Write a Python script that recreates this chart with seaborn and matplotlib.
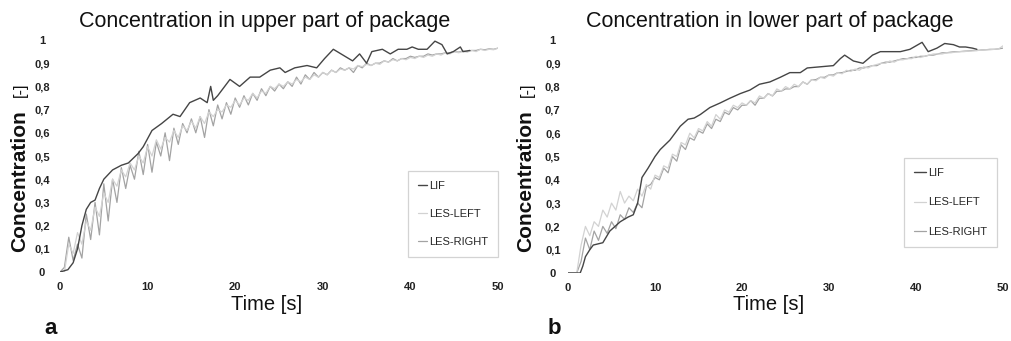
import numpy as np
import pandas as pd
import matplotlib
matplotlib.use("Agg")
import matplotlib.pyplot as plt
import seaborn as sns

# ---- data (time in s, concentration in [-]) ----
SERIES = ["LIF", "LES-LEFT", "LES-RIGHT"]
COLORS = {"LIF": "#454545", "LES-LEFT": "#d2d2d2", "LES-RIGHT": "#a3a3a3"}

X_TICKS = [0, 10, 20, 30, 40, 50]
Y_TICKS = [0, 0.1, 0.2, 0.3, 0.4, 0.5, 0.6, 0.7, 0.8, 0.9, 1]
Y_TICK_LABELS = ["0", "0,1", "0,2", "0,3", "0,4", "0,5", "0,6", "0,7", "0,8", "0,9", "1"]

# LES signals are sampled every 0.5 s
LES_TIME = np.arange(0, 50.5, 0.5)

# panel a: upper part of package
A_LIF_TIME = [0, 0.9, 1.5, 2, 2.5, 3, 3.5, 4, 4.5, 5, 5.5, 6, 7, 7.8, 8.9, 9.5,
              10.5, 11.6, 12.9, 13.7, 14.8, 16, 16.8, 17.2, 17.5, 18, 19.4, 20.5,
              21.7, 22.8, 24, 25.1, 25.7, 26.8, 28.2, 29.3, 30.2, 31.2, 32.3, 33.4,
              34.2, 35, 35.6, 36.8, 37.7, 38.6, 39.6, 40.2, 40.9, 41.9, 42.8, 43.6,
              44.2, 44.9, 45.7, 46, 46.8]
A_LIF = [0, 0.01, 0.04, 0.1, 0.2, 0.27, 0.3, 0.31, 0.36, 0.4, 0.42, 0.44, 0.46, 0.47,
         0.51, 0.54, 0.61, 0.64, 0.68, 0.67, 0.73, 0.75, 0.73, 0.8, 0.74, 0.76, 0.83,
         0.8, 0.84, 0.84, 0.87, 0.88, 0.86, 0.88, 0.89, 0.88, 0.92, 0.96, 0.935, 0.91,
         0.94, 0.9, 0.95, 0.96, 0.94, 0.96, 0.96, 0.97, 0.96, 0.96, 0.995, 0.98, 0.94,
         0.95, 0.97, 0.95, 0.955]
A_LES_LEFT = [0, 0, 0.12, 0.08, 0.17, 0.12, 0.22, 0.18, 0.28, 0.24,
              0.34, 0.3, 0.4, 0.37, 0.44, 0.41, 0.47, 0.44, 0.5, 0.47,
              0.54, 0.5, 0.57, 0.53, 0.58, 0.56, 0.61, 0.58, 0.63, 0.61,
              0.65, 0.62, 0.67, 0.64, 0.69, 0.67, 0.7, 0.69, 0.72, 0.71,
              0.74, 0.72, 0.75, 0.74, 0.77, 0.75, 0.78, 0.77, 0.8, 0.79,
              0.81, 0.8, 0.82, 0.81, 0.83, 0.82, 0.84, 0.83, 0.85, 0.84,
              0.86, 0.85, 0.87, 0.86, 0.875, 0.87, 0.88, 0.875, 0.89, 0.885,
              0.895, 0.89, 0.9, 0.895, 0.91, 0.905, 0.915, 0.91, 0.92, 0.915,
              0.925, 0.92, 0.93, 0.925, 0.935, 0.93, 0.94, 0.935, 0.945, 0.94,
              0.95, 0.945, 0.95, 0.948, 0.955, 0.95, 0.96, 0.955, 0.96, 0.958,
              0.965]
A_LES_RIGHT = [0, 0.02, 0.15, 0.05, 0.12, 0.06, 0.25, 0.14, 0.3, 0.16,
               0.38, 0.22, 0.4, 0.3, 0.45, 0.36, 0.46, 0.4, 0.52, 0.42,
               0.55, 0.43, 0.56, 0.5, 0.6, 0.48, 0.62, 0.55, 0.64, 0.6,
               0.66, 0.6, 0.67, 0.58, 0.7, 0.63, 0.72, 0.66, 0.73, 0.68,
               0.75, 0.71, 0.76, 0.72, 0.77, 0.74, 0.79, 0.76, 0.8, 0.78,
               0.81, 0.79, 0.82, 0.8, 0.84, 0.81, 0.85, 0.83, 0.86, 0.84,
               0.86, 0.85, 0.87, 0.86, 0.88, 0.87, 0.88, 0.86, 0.89, 0.88,
               0.9, 0.89, 0.9, 0.9, 0.91, 0.905, 0.92, 0.91, 0.92, 0.92,
               0.93, 0.925, 0.93, 0.93, 0.94, 0.935, 0.94, 0.94, 0.945, 0.945,
               0.95, 0.948, 0.952, 0.95, 0.955, 0.955, 0.96, 0.958, 0.962, 0.96,
               0.965]

# panel b: lower part of package
B_LIF_TIME = [0, 1.4, 1.7, 2, 2.5, 2.9, 4, 4.8, 6, 6.9, 7.5, 8, 8.5, 9.2, 10, 10.6,
              11.7, 12.9, 13.8, 14.5, 15.2, 16.3, 17.5, 18.6, 19.8, 20.9, 22, 23.2,
              24.4, 25.5, 26.7, 27.5, 29, 30.5, 31.3, 31.8, 32.8, 33.9, 35, 35.9, 37,
              38.2, 39.3, 40.7, 41.4, 42.4, 43.3, 44.3, 45, 45.7, 46.5, 47]
B_LIF = [0, 0, 0.03, 0.07, 0.1, 0.12, 0.13, 0.18, 0.22, 0.24, 0.25, 0.3, 0.41, 0.45,
         0.5, 0.53, 0.57, 0.63, 0.66, 0.665, 0.68, 0.71, 0.73, 0.75, 0.77, 0.785, 0.81,
         0.82, 0.84, 0.86, 0.86, 0.88, 0.885, 0.89, 0.92, 0.935, 0.91, 0.9, 0.935,
         0.95, 0.95, 0.95, 0.96, 0.99, 0.95, 0.965, 0.985, 0.98, 0.97, 0.97, 0.965, 0.96]
B_LES_LEFT = [0, 0, 0, 0.12, 0.2, 0.16, 0.22, 0.2, 0.27, 0.24,
              0.3, 0.27, 0.35, 0.3, 0.33, 0.31, 0.36, 0.33, 0.38, 0.36,
              0.42, 0.41, 0.46, 0.45, 0.51, 0.5, 0.56, 0.55, 0.6, 0.58,
              0.62, 0.61, 0.65, 0.63, 0.68, 0.66, 0.7, 0.69, 0.72, 0.71,
              0.73, 0.72, 0.74, 0.73, 0.76, 0.75, 0.77, 0.76, 0.79, 0.78,
              0.8, 0.79, 0.81, 0.8, 0.82, 0.81, 0.83, 0.825, 0.84, 0.835,
              0.85, 0.845, 0.86, 0.855, 0.87, 0.865, 0.875, 0.87, 0.885, 0.88,
              0.89, 0.895, 0.9, 0.9, 0.91, 0.905, 0.915, 0.915, 0.92, 0.92,
              0.93, 0.925, 0.93, 0.935, 0.94, 0.94, 0.94, 0.945, 0.945, 0.948,
              0.95, 0.95, 0.952, 0.953, 0.955, 0.956, 0.958, 0.958, 0.96, 0.962,
              0.975]
B_LES_RIGHT = [0, 0, 0, 0.05, 0.15, 0.1, 0.18, 0.14, 0.2, 0.17,
               0.22, 0.19, 0.25, 0.23, 0.28, 0.26, 0.3, 0.28, 0.37, 0.38,
               0.41, 0.4, 0.45, 0.43, 0.5, 0.48, 0.55, 0.53, 0.58, 0.57,
               0.61, 0.6, 0.64, 0.62, 0.66, 0.65, 0.69, 0.68, 0.71, 0.7,
               0.72, 0.72, 0.74, 0.72, 0.75, 0.75, 0.77, 0.76, 0.78, 0.78,
               0.79, 0.79, 0.8, 0.8, 0.82, 0.81, 0.83, 0.83, 0.84, 0.84,
               0.85, 0.85, 0.86, 0.86, 0.865, 0.87, 0.87, 0.88, 0.88, 0.885,
               0.89, 0.89, 0.9, 0.905, 0.905, 0.91, 0.915, 0.92, 0.92, 0.925,
               0.925, 0.93, 0.93, 0.935, 0.935, 0.94, 0.945, 0.945, 0.948, 0.95,
               0.95, 0.952, 0.953, 0.955, 0.955, 0.957, 0.958, 0.96, 0.96, 0.962,
               0.965]

FONT = "Liberation Sans"


def long_frame(lif_time, lif, les_left, les_right):
    parts = [
        pd.DataFrame({"time": lif_time, "conc": lif, "series": "LIF"}),
        pd.DataFrame({"time": LES_TIME, "conc": les_left, "series": "LES-LEFT"}),
        pd.DataFrame({"time": LES_TIME, "conc": les_right, "series": "LES-RIGHT"}),
    ]
    return pd.concat(parts, ignore_index=True)


def draw_panel(ax, data, title, title_x, ytick_pad, legend_anchor, handle_len, spacing):
    # grays first so the LIF curve sits on top
    for name, lw in [("LES-RIGHT", 0.9), ("LES-LEFT", 0.9), ("LIF", 1.0)]:
        sns.lineplot(data=data[data["series"] == name], x="time", y="conc",
                     color=COLORS[name], linewidth=lw, label=name,
                     estimator=None, sort=False, ax=ax)

    ax.set_xlim(0, 50)
    ax.set_ylim(0, 1)
    ax.set_xticks(X_TICKS)
    ax.set_xticklabels([str(t) for t in X_TICKS], fontsize=8,
                       fontweight="bold", family=FONT)
    ax.set_yticks(Y_TICKS)
    ax.set_yticklabels(Y_TICK_LABELS, fontsize=8, fontweight="bold", family=FONT)
    for lab in ax.get_yticklabels():
        lab.set_horizontalalignment("center")
    ax.tick_params(axis="y", length=0, pad=ytick_pad, colors="#222222")
    ax.tick_params(axis="x", length=0, pad=7, colors="#222222")
    for s in ax.spines.values():
        s.set_visible(False)
    ax.set_xlabel("")
    ax.set_ylabel("")
    ax.set_title(title, x=title_x, fontsize=15.5, family=FONT, pad=9, color="#111111")

    handles, labels = ax.get_legend_handles_labels()
    order = [labels.index(n) for n in SERIES]
    leg = ax.legend([handles[i] for i in order], SERIES, loc="lower right",
                    bbox_to_anchor=legend_anchor, frameon=True, fancybox=False,
                    prop={"family": FONT, "size": 8}, handlelength=handle_len,
                    handletextpad=0.15, labelspacing=spacing, borderpad=0.9,
                    borderaxespad=0)
    leg.get_frame().set_edgecolor("#c8c8c8")
    leg.get_frame().set_linewidth(0.9)


def main():
    sns.set_style("white")
    plt.rcParams["font.family"] = [FONT, "DejaVu Sans"]

    fig = plt.figure(figsize=(10.12, 3.41), dpi=100)
    ax_a = fig.add_axes([0.0593, 0.2023, 0.4328, 0.6804])
    ax_b = fig.add_axes([0.5613, 0.1994, 0.4298, 0.6833])

    data_a = long_frame(A_LIF_TIME, A_LIF, A_LES_LEFT, A_LES_RIGHT)
    data_b = long_frame(B_LIF_TIME, B_LIF, B_LES_LEFT, B_LES_RIGHT)

    draw_panel(ax_a, data_a, "Concentration in upper part of package", 0.468,
               13, (1.0, 0.065), 0.8, 1.6)
    draw_panel(ax_b, data_b, "Concentration in lower part of package", 0.464,
               11, (0.986, 0.112), 1.1, 1.75)

    # axis labels as in the original figure
    for x_lab, x_br, x_time, letter, x_letter in [
        (0.019, 0.020, 0.263, "a", 0.050),
        (0.519, 0.521, 0.759, "b", 0.548),
    ]:
        fig.text(x_lab, 0.469, "Concentration", rotation=90, ha="center",
                 va="center", fontsize=15, fontweight="bold", color="#111111")
        fig.text(x_br, 0.736, "[-]", rotation=90, ha="center", va="center",
                 fontsize=12, color="#111111")
        fig.text(x_time, 0.106, "Time [s]", ha="center", va="center",
                 fontsize=14.5, color="#111111")
        fig.text(x_letter, 0.038, letter, ha="center", va="center",
                 fontsize=16, fontweight="bold", color="#111111")

    fig.savefig("out.png", dpi=100)
    plt.close(fig)


if __name__ == "__main__":
    main()
